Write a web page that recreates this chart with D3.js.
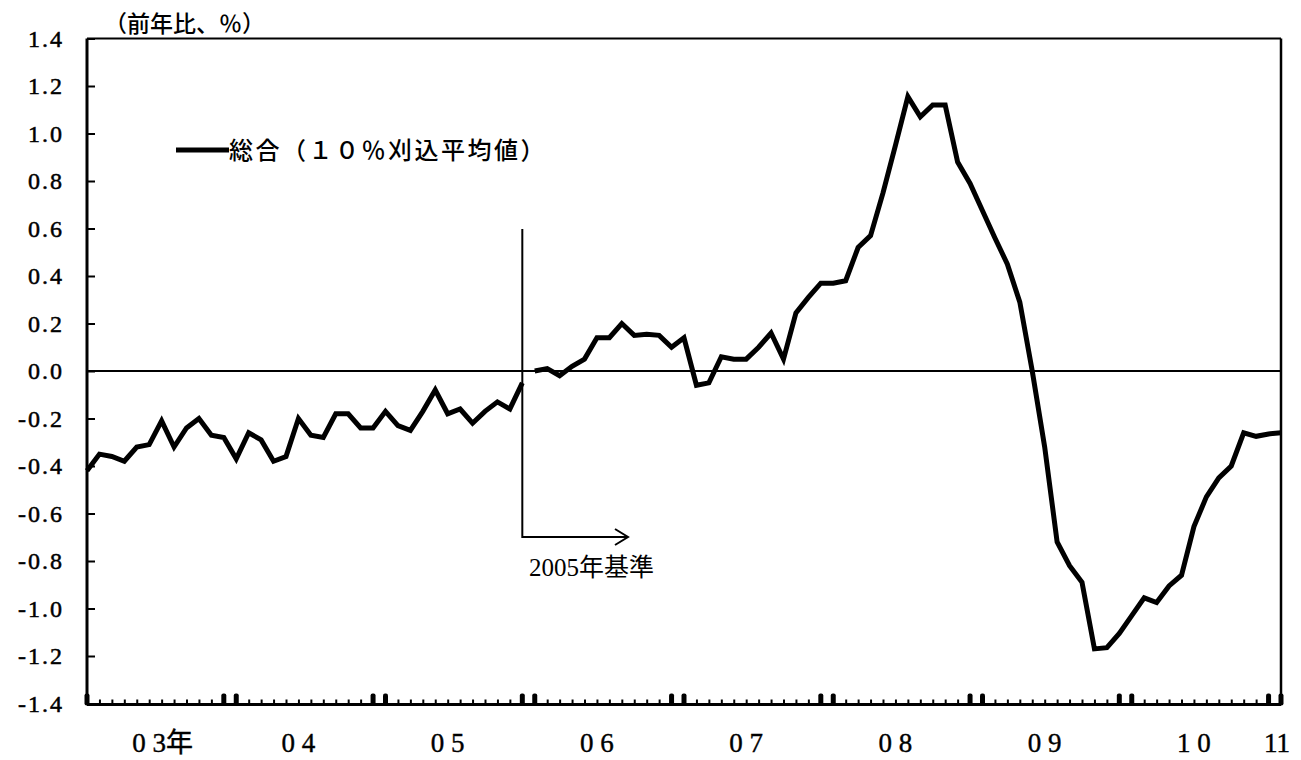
<!DOCTYPE html>
<html>
<head>
<meta charset="utf-8">
<script src="https://cdn.jsdelivr.net/npm/d3@7"></script>
<style>
  html, body { margin: 0; padding: 0; background: #fff; }
  svg { display: block; }
</style>
</head>
<body>
<svg id="chart" width="1301" height="760"></svg>
<script>
// 総合（10%刈込平均値）前年比 — 2000年基準 (2003/1–2005/12)
const seriesOld = [-0.42,-0.35,-0.36,-0.38,-0.32,-0.31,-0.21,-0.32,-0.24,-0.20,-0.27,-0.28,
                   -0.37,-0.26,-0.29,-0.38,-0.36,-0.20,-0.27,-0.28,-0.18,-0.18,-0.24,-0.24,
                   -0.17,-0.23,-0.25,-0.17,-0.08,-0.18,-0.16,-0.22,-0.17,-0.13,-0.16,-0.05];
// 2005年基準 (2006/1–2011/1)
const seriesNew = [0.00,0.01,-0.02,0.02,0.05,0.14,0.14,0.20,0.15,0.155,0.15,0.10,
                   0.14,-0.06,-0.05,0.06,0.05,0.05,0.10,0.16,0.05,0.245,0.31,0.37,
                   0.37,0.38,0.52,0.57,0.75,0.95,1.155,1.07,1.12,1.12,0.88,0.79,
                   0.675,0.56,0.45,0.29,0.0,-0.32,-0.72,-0.82,-0.89,-1.17,-1.165,-1.105,
                   -1.03,-0.955,-0.975,-0.905,-0.86,-0.655,-0.53,-0.45,-0.40,-0.26,-0.275,-0.265,
                   -0.26];
const yTicks = [1.4,1.2,1.0,0.8,0.6,0.4,0.2,0.0,-0.2,-0.4,-0.6,-0.8,-1.0,-1.2,-1.4];
const xLabels = ["0 3年","0 4","0 5","0 6","0 7","0 8","0 9","1 0","11"];
const xLabelMonths = [5,17,29,41,53,65,77,89,96];
const baseChangeMonth = 35;
const titleText = "（前年比、％）";
const legendText = "総合（１０％刈込平均値）";
const baseText = "2005年基準";

const svg = d3.select("#chart");
const L = 87, R = 1281, T = 38.5, B = 703.5;
const nMonths = seriesOld.length + seriesNew.length; // 97
const x = d3.scaleLinear().domain([0, nMonths - 1]).range([L, R]);
const y = d3.scaleLinear().domain([-1.4, 1.4]).range([B, T]);

const serif = "'Liberation Serif','Times New Roman',serif";
const cjk = "'Liberation Serif','Noto Sans CJK JP',sans-serif";
const cjkSans = "'Noto Sans CJK JP',sans-serif";

// frame top & right
svg.append("line").attr("x1", L).attr("x2", R).attr("y1", T).attr("y2", T)
  .attr("stroke", "#000").attr("stroke-width", 2);
svg.append("line").attr("x1", R).attr("x2", R).attr("y1", T).attr("y2", B + 1)
  .attr("stroke", "#000").attr("stroke-width", 2.5);

// zero line
svg.append("line").attr("x1", L).attr("x2", R).attr("y1", y(0)).attr("y2", y(0))
  .attr("stroke", "#000").attr("stroke-width", 2);

// y axis
const yAxis = svg.append("g").attr("transform", `translate(${L},0)`)
  .call(d3.axisLeft(y).tickValues(yTicks).tickSize(-8).tickPadding(23)
    .tickFormat(d => (d < 0 ? "-" : "") + Math.abs(d).toFixed(1)));
yAxis.select(".domain").attr("stroke-width", 3).attr("d", `M0,${T}V${B + 1}`);
yAxis.selectAll(".tick line").attr("stroke-width", 2);
yAxis.selectAll(".tick text")
  .attr("font-family", serif).attr("font-size", 24).attr("fill", "#000")
  .attr("stroke", "#000").attr("stroke-width", 0.5)
  .attr("letter-spacing", 2).attr("dy", "0.33em");

// x axis: monthly ticks
const xAxis = svg.append("g").attr("transform", `translate(0,${B + 1})`)
  .call(d3.axisBottom(x).tickValues(d3.range(nMonths)).tickSize(-5).tickFormat(""));
xAxis.select(".domain").attr("stroke-width", 3).attr("d", `M${L},0H${R}`);
xAxis.selectAll(".tick line").attr("stroke-width", 2);

// thick ticks at Dec / Jan
const thick = [0];
for (let m = 11; m < nMonths; m += 12) { thick.push(m); if (m + 1 < nMonths) thick.push(m + 1); }
svg.append("g").selectAll("rect").data(thick).join("rect")
  .attr("x", d => x(d) - 2.5).attr("y", B - 10).attr("width", 5).attr("height", 12)
  .attr("rx", 2).attr("fill", "#000");

// x labels
svg.append("g").selectAll("text").data(xLabels).join("text")
  .attr("x", (d, i) => i === 0 ? x(xLabelMonths[i]) - 17 : (i === xLabels.length - 1 ? x(xLabelMonths[i]) - 4 : x(xLabelMonths[i])))
  .attr("y", 752)
  .attr("text-anchor", (d, i) => i === 0 ? "start" : "middle")
  .attr("font-family", cjk).attr("font-size", 27).attr("fill", "#000")
  .attr("stroke", "#000").attr("stroke-width", 0.4)
  .text(d => d);

// base change marker
const bx = x(baseChangeMonth);
const arrowY = 537, arrowEnd = 628;
svg.append("path")
  .attr("d", `M${bx},229V${arrowY}H${arrowEnd}`)
  .attr("fill", "none").attr("stroke", "#000").attr("stroke-width", 2);
svg.append("path")
  .attr("d", `M${arrowEnd - 13},${arrowY - 8}L${arrowEnd},${arrowY}L${arrowEnd - 13},${arrowY + 8}`)
  .attr("fill", "none").attr("stroke", "#000").attr("stroke-width", 2);
svg.append("text").attr("x", 529).attr("y", 576)
  .attr("font-family", cjk).attr("font-size", 25).attr("fill", "#000")
  .text(baseText);

// lines
const line = d3.line().x(d => x(d.m)).y(d => y(d.v));
const oldData = seriesOld.map((v, i) => ({ m: i, v }));
const newData = seriesNew.map((v, i) => ({ m: i + seriesOld.length, v }));
[oldData, newData].forEach(data => {
  svg.append("path").datum(data).attr("d", line)
    .attr("fill", "none").attr("stroke", "#000").attr("stroke-width", 5)
    .attr("stroke-linejoin", "miter").attr("stroke-miterlimit", 3);
});

// title
svg.append("text").attr("x", 104).attr("y", 32)
  .attr("font-family", cjkSans).attr("font-size", 23).attr("font-weight", 500).attr("fill", "#000")
  .text(titleText);

// legend
svg.append("line").attr("x1", 176).attr("x2", 229).attr("y1", 150).attr("y2", 150)
  .attr("stroke", "#000").attr("stroke-width", 5);
svg.append("text").attr("x", 229).attr("y", 159)
  .attr("font-family", cjkSans).attr("font-size", 24).attr("font-weight", 500)
  .attr("letter-spacing", 2.5).attr("fill", "#000")
  .text(legendText);
</script>
</body>
</html>
